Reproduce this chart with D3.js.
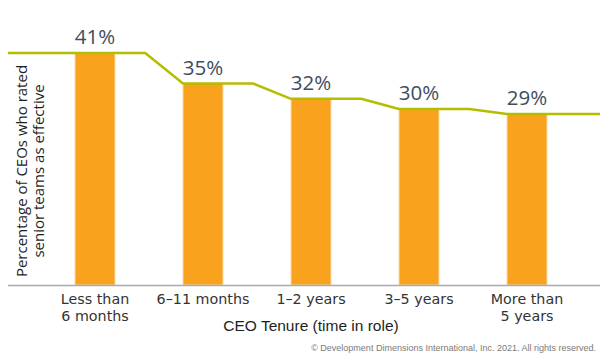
<!DOCTYPE html>
<html>
<head>
<meta charset="utf-8">
<script src="https://cdn.jsdelivr.net/npm/d3@7"></script>
<style>
  body { margin: 0; background: #fff; }
  svg { display: block; }
</style>
</head>
<body>
<svg id="chart" width="600" height="363"></svg>
<script>
// data
const tenure = ["Less than|6 months", "6–11 months", "1–2 years", "3–5 years", "More than|5 years"]
const rated = [41, 35, 32, 30, 29]

const width = 600, height = 363
const baseY = 285
const svg = d3.select('#chart')

svg.append('rect').attr('width', width).attr('height', height).attr('fill', '#fff')

const x = d3.scaleBand()
  .domain(tenure)
  .range([41, 581])
  .paddingInner(0.63)
  .paddingOuter(0.315)

// bars don't start at 0 in the original, baseline sits a little below
const y = d3.scaleLinear()
  .domain([-4.6, 41])
  .range([baseY, 53])

// bars
svg.append('g').selectAll('rect')
  .data(rated)
  .enter()
  .append('rect')
  .attr('x', (d, i) => x(tenure[i]))
  .attr('y', d => y(d))
  .attr('width', x.bandwidth())
  .attr('height', d => baseY - y(d))
  .attr('fill', '#F8A21D')
  .attr('stroke', '#FCD9A6')
  .attr('stroke-width', 1)

// baseline
svg.append('line')
  .attr('x1', 8).attr('x2', 600)
  .attr('y1', baseY + 0.5).attr('y2', baseY + 0.5)
  .attr('stroke', '#A3ABB3')
  .attr('stroke-width', 1.5)

// step line over the bar tops
const pts = []
rated.forEach((d, i) => {
  const left = i === 0 ? 8 : x(tenure[i])
  pts.push([left, y(d)])
  const right = i === rated.length - 1 ? 600 : x(tenure[i + 1]) - x.step() * 0.35
  pts.push([right, y(d)])
})

svg.append('path')
  .datum(pts)
  .attr('d', d3.line())
  .attr('fill', 'none')
  .attr('stroke', '#B5BD00')
  .attr('stroke-width', 2.5)
  .attr('stroke-linejoin', 'round')

// value labels
svg.append('g').selectAll('text')
  .data(rated)
  .enter()
  .append('text')
  .attr('x', (d, i) => x(tenure[i]) + x.bandwidth() / 2)
  .attr('y', d => y(d) - 9)
  .attr('text-anchor', 'middle')
  .attr('font-family', '"Open Sans", sans-serif')
  .attr('font-size', 20.5)
  .attr('fill', '#3E4E5C')
  .text(d => d + '%')

// x tick labels, two-line ones get a second text below
const tickG = svg.append('g')
tenure.forEach(t => {
  t.split('|').forEach((line, j) => {
    tickG.append('text')
      .attr('x', x(t) + x.bandwidth() / 2)
      .attr('y', 304 + j * 17)
      .attr('text-anchor', 'middle')
      .attr('font-family', '"DejaVu Sans", sans-serif')
      .attr('font-size', 14.3)
      .attr('fill', '#333')
      .text(line)
  })
})

// axis titles
svg.append('text')
  .attr('x', 311)
  .attr('y', 331)
  .attr('text-anchor', 'middle')
  .attr('font-family', '"Liberation Sans", Arial, sans-serif')
  .attr('font-size', 15.5)
  .attr('fill', '#1E1E1E')
  .text('CEO Tenure (time in role)')

const yTitle = svg.append('text')
  .attr('transform', 'translate(0,171) rotate(-90)')
  .attr('text-anchor', 'middle')
  .attr('font-family', '"Open Sans", sans-serif')
  .attr('font-size', 15)
  .attr('fill', '#1E1E1E')

yTitle.append('tspan').attr('x', 0).attr('y', 27).text('Percentage of CEOs who rated')
yTitle.append('tspan').attr('x', 0).attr('y', 44).text('senior teams as effective')

// footer
svg.append('text')
  .attr('x', 596)
  .attr('y', 351)
  .attr('text-anchor', 'end')
  .attr('font-family', '"Liberation Sans Narrow", "Liberation Sans", Arial, sans-serif')
  .attr('font-size', 9)
  .attr('fill', '#7A7A7A')
  .text('© Development Dimensions International, Inc. 2021. All rights reserved.')
</script>
</body>
</html>
